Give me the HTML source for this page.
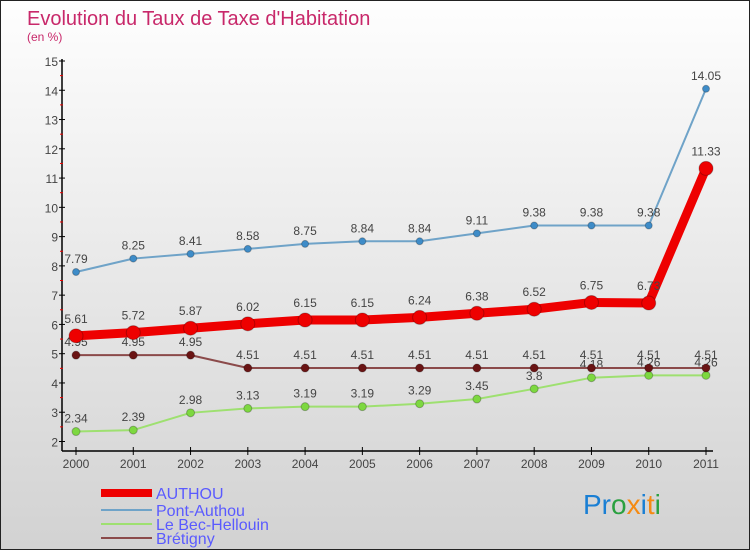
<!DOCTYPE html>
<html><head><meta charset="utf-8"><style>
body{margin:0}
#c{width:750px;height:550px;position:relative;box-sizing:border-box;border:1px solid #222;background:linear-gradient(#fefefe,#d2d2d2);overflow:hidden;font-family:"Liberation Sans",sans-serif}
</style></head><body>
<div id="c">
<svg id="s" width="750" height="550" style="position:absolute;left:0;top:0">
<text x="26" y="24" font-size="20" fill="#c8286a">Evolution du Taux de Taxe d'Habitation</text>
<text x="26" y="40" font-size="12" fill="#c8286a">(en %)</text>
<g id="axes"></g><g id="series"></g>
<g>
<line x1="100" y1="492" x2="151" y2="492" stroke="#e00" stroke-width="8"/>
<text x="155" y="498" font-size="16" fill="#5a5aff">AUTHOU</text>
<line x1="100" y1="509" x2="151" y2="509" stroke="#6fa3c8" stroke-width="2"/>
<text x="155" y="515" font-size="16" fill="#5a5aff">Pont-Authou</text>
<line x1="100" y1="523" x2="151" y2="523" stroke="#9ee070" stroke-width="2"/>
<text x="155" y="529" font-size="16" fill="#5a5aff">Le Bec-Hellouin</text>
<line x1="100" y1="537" x2="151" y2="537" stroke="#8b4a4a" stroke-width="2"/>
<text x="155" y="543" font-size="16" fill="#5a5aff">Brétigny</text>
</g>
<text x="582" y="513" font-size="28"><tspan fill="#1a7fd4">Pr</tspan><tspan fill="#2aa040">o</tspan><tspan fill="#f58a12">x</tspan><tspan fill="#1a7fd4">i</tspan><tspan fill="#f58a12">t</tspan><tspan fill="#2aa040">i</tspan></text>
</svg>
</div>
<script>
const years=["2000","2001","2002","2003","2004","2005","2006","2007","2008","2009","2010","2011"];
const yTicks=[2,3,4,5,6,7,8,9,10,11,12,13,14,15];
const authou=[5.61,5.72,5.87,6.02,6.15,6.15,6.24,6.38,6.52,6.75,6.73,11.33];
const pontAuthou=[7.79,8.25,8.41,8.58,8.75,8.84,8.84,9.11,9.38,9.38,9.38,14.05];
const becHellouin=[2.34,2.39,2.98,3.13,3.19,3.19,3.29,3.45,3.8,4.18,4.26,4.26];
const bretigny=[4.95,4.95,4.95,4.51,4.51,4.51,4.51,4.51,4.51,4.51,4.51,4.51];
const NS="http://www.w3.org/2000/svg";
function X(i){return 75+i*(630/(years.length-1));}
function Y(v){return 440.5-(v-2)*29.27;}
function mk(t,a,p){const e=document.createElementNS(NS,t);for(const k in a)e.setAttribute(k,a[k]);p.appendChild(e);return e;}
const ax=document.getElementById('axes'),sg=document.getElementById('series');
let e=mk('line',{x1:61,y1:58,x2:61,y2:450,stroke:'#000','stroke-width':1.5},ax);


e=mk('line',{x1:61,y1:450,x2:712,y2:450,stroke:'#000','stroke-width':1.5},ax);


yTicks.forEach(v=>{
 mk('line',{x1:58,y1:Y(v),x2:64,y2:Y(v),stroke:'#000'},ax);
 if(v<15) mk('line',{x1:59,y1:Y(v+0.5),x2:62,y2:Y(v+0.5),stroke:'#e00'},ax);
 const t=mk('text',{x:57,y:Y(v)+5,'font-size':12,fill:'#444','text-anchor':'end'},ax);t.textContent=v;
 
 
});
years.forEach((y,i)=>{
 mk('line',{x1:X(i),y1:446,x2:X(i),y2:454,stroke:'#000'},ax);
 const t=mk('text',{x:X(i),y:467,'font-size':12,fill:'#444','text-anchor':'middle'},ax);t.textContent=y;
 
 
});
function series(data,name,color,w,r,dot,off){
 const g=mk('g',{},sg);
 
 
 mk('polyline',{points:data.map((v,i)=>X(i)+','+Y(v)).join(' '),fill:'none',stroke:color,'stroke-width':w,'stroke-linejoin':'round'},g);
 data.forEach((v,i)=>{
  const c=mk('circle',{cx:X(i),cy:Y(v),r:r,fill:dot,stroke:'rgba(0,0,0,0.25)'},g);
  
  
  const t=mk('text',{x:X(i),y:Y(v)-off,'font-size':12,fill:'#444','text-anchor':'middle'},g);t.textContent=v;
 });
}
series(becHellouin,'bec-hellouin','#9ee070',2,4,'#7dd840',9);
series(bretigny,'bretigny','#8b4a4a',2,4,'#6a1414',9);
series(pontAuthou,'pont-authou','#6fa3c8',2,3.5,'#3e8cc8',9);
series(authou,'authou','#e00',9,7,'#e00',13);
</script>
</body></html>
